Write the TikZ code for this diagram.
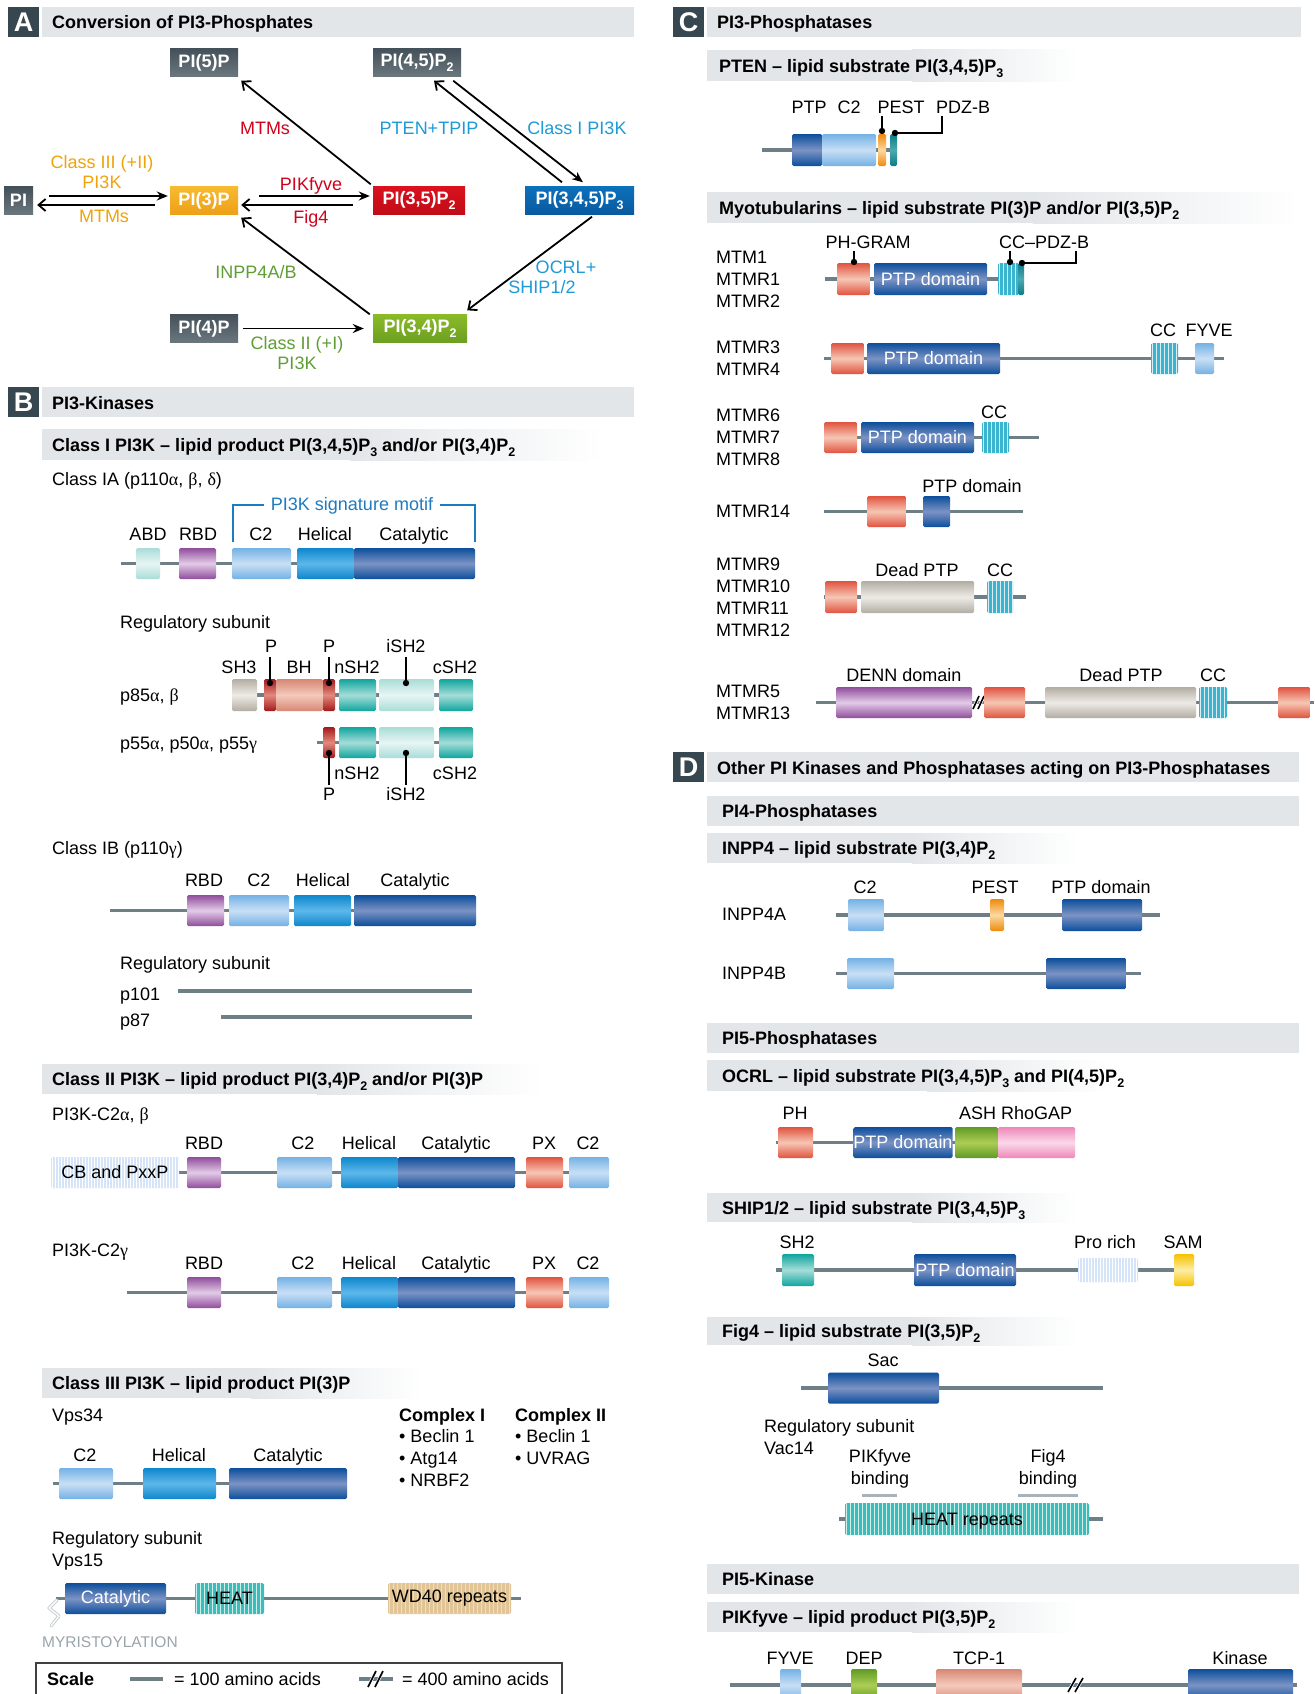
\documentclass[tikz,border=0pt]{standalone}
\usepackage{fontspec}
\setmainfont{Liberation Sans}
\newfontfamily\grkfont{Liberation Serif}
\usetikzlibrary{arrows.meta,calc}
\newcommand\xalpha{{\grkfont α}}
\newcommand\xbeta{{\grkfont β}}
\newcommand\xdelta{{\grkfont δ}}
\newcommand\xgamma{{\grkfont γ}}
\newcommand\sbs[1]{\raisebox{-0.3em}{\fontsize{12.5}{12.5}\selectfont #1}}
\definecolor{hdrbar}{HTML}{E3E6E9}
\definecolor{hdrlab}{HTML}{37474F}
\definecolor{bbC}{HTML}{6F7F87}
\definecolor{gNa}{HTML}{44515A}
\definecolor{gNb}{HTML}{6B777E}
\definecolor{oNa}{HTML}{F7BA30}
\definecolor{oNb}{HTML}{EDA018}
\definecolor{rNa}{HTML}{DA111E}
\definecolor{rNb}{HTML}{C00C17}
\definecolor{bNa}{HTML}{0C70BA}
\definecolor{bNb}{HTML}{0A5AA0}
\definecolor{grNa}{HTML}{8BBB28}
\definecolor{grNb}{HTML}{6C9E22}
\definecolor{orT}{HTML}{F0A30A}
\definecolor{rdT}{HTML}{D0021B}
\definecolor{blT}{HTML}{1E9BD7}
\definecolor{grT}{HTML}{5F9E35}
\definecolor{motif}{HTML}{1E7BC0}
\definecolor{lbE}{HTML}{74B1E5}\definecolor{lbM}{HTML}{C8DFF5}
\definecolor{mbE}{HTML}{0E86CC}\definecolor{mbM}{HTML}{5DB8EA}
\definecolor{dbE}{HTML}{0C4E9C}\definecolor{dbM}{HTML}{7C93C4}
\definecolor{puE}{HTML}{8F4D9C}\definecolor{puM}{HTML}{E3CBE7}
\definecolor{ptE}{HTML}{A9DCD8}\definecolor{ptM}{HTML}{E7F6F4}
\definecolor{teE}{HTML}{10A59D}\definecolor{teM}{HTML}{A5DDD9}
\definecolor{bgE}{HTML}{B2ADA3}\definecolor{bgM}{HTML}{EEEBE6}
\definecolor{saE}{HTML}{D88774}\definecolor{saM}{HTML}{F3CABC}
\definecolor{drE}{HTML}{A3191B}\definecolor{drM}{HTML}{E3897D}
\definecolor{rdE}{HTML}{E0533F}\definecolor{rdM}{HTML}{F6C6B4}
\definecolor{orE}{HTML}{EE8A0A}\definecolor{orM}{HTML}{FCD9A1}
\definecolor{gnE}{HTML}{5E9B25}\definecolor{gnM}{HTML}{ADCD55}
\definecolor{pkE}{HTML}{EE88B7}\definecolor{pkM}{HTML}{FBD8E9}
\definecolor{yeE}{HTML}{F6C200}\definecolor{yeM}{HTML}{FDEDA3}
\definecolor{tcE}{HTML}{0B7C85}\definecolor{tcM}{HTML}{4BAAB2}
\definecolor{ccB}{HTML}{3DB4CF}
\definecolor{htB}{HTML}{3CBDB9}\definecolor{htS}{HTML}{CFEFEC}
\definecolor{pbB}{HTML}{D5E5F7}
\definecolor{wdB}{HTML}{E2C596}\definecolor{wdS}{HTML}{F1DDBA}
\definecolor{myr}{HTML}{9AA5AB}
\definecolor{gbar}{HTML}{A8B2B8}
% domain box: name, style, x1, x2, yc, h, text
\newcommand\dmn[7]{%
  \pgfmathsetmacro\dmw{#4-#3}%
  \pgfmathsetmacro\dmx{(#3+#4)/2}%
  \node[dombase,#2,minimum width=\dmw pt,minimum height=#6pt] (#1) at (\dmx,#5) {#7};}
% striped box: name, x1, x2, yc, h, base, stripe, spacing, text
\newcommand\sdm[9]{%
  \pgfmathsetmacro\dmw{#3-#2}%
  \pgfmathsetmacro\dmx{(#2+#3)/2}%
  \node[dombase,fill=#6,minimum width=\dmw pt,minimum height=#5pt,
    path picture={\foreach \k in {0,#8,...,400}{\draw[#7,line width=0.9pt]
      ([xshift=\k pt+1.5pt]path picture bounding box.south west) --
      ([xshift=\k pt+1.5pt]path picture bounding box.north west);}}] (#1) at (\dmx,#4) {#9};}
% fading sub header: name, x, y1, y2, len, textx, text
\newcommand\subhd[7]{%
  \fill[hdrbar] (#2,#3) rectangle ({#2+0.55*#5},#4);
  \shade[left color=hdrbar,right color=white] ({#2+0.55*#5},#3) rectangle ({#2+#5},#4);
  \node[tl,bld] (#1) at (#6,{(#3+#4)/2}) {#7};}
% solid header bar: name, x, y1, y2, x2, textx, text
\newcommand\solhd[7]{%
  \fill[hdrbar] (#2,#3) rectangle (#5,#4);
  \node[tl,bld] (#1) at (#6,{(#3+#4)/2}) {#7};}
% section header: name, letter, x1, y1, barx2, text
\newcommand\secbar[6]{%
  \fill[hdrlab] (#3,#4) rectangle ({#3+31},{#4+30});
  \node[text=white,font=\fontsize{27}{27}\selectfont\bfseries,inner sep=0pt] (#1l) at ({#3+15.5},{#4+15}) {#2};
  \fill[hdrbar] ({#3+34},#4) rectangle (#5,{#4+30});
  \node[tl,bld] (#1) at ({#3+44},{#4+15.5}) {#6};}
\begin{document}
\begin{tikzpicture}[x=1pt,y=-1pt,
  font=\fontsize{18}{21}\selectfont,
  tl/.style={anchor=base west,yshift=-6.5pt,inner sep=0pt},
  tc/.style={anchor=base,yshift=-6.5pt,inner sep=0pt},
  bld/.style={font=\fontsize{18}{21}\selectfont\bfseries},
  bb/.style={draw=bbC,line width=3.5pt},
  pinln/.style={draw=black,line width=1.2pt},
  dombase/.style={rectangle,rounded corners=1.5pt,inner sep=0pt,outer sep=0pt,draw=none},
  wtxt/.style={text=white},
  dLB/.style={top color=lbE,bottom color=lbE,middle color=lbM},
  dMB/.style={top color=mbE,bottom color=mbE,middle color=mbM},
  dDB/.style={top color=dbE,bottom color=dbE,middle color=dbM},
  dPU/.style={top color=puE,bottom color=puE,middle color=puM},
  dPT/.style={top color=ptE,bottom color=ptE,middle color=ptM},
  dTE/.style={top color=teE,bottom color=teE,middle color=teM},
  dBG/.style={top color=bgE,bottom color=bgE,middle color=bgM},
  dSA/.style={top color=saE,bottom color=saE,middle color=saM},
  dDR/.style={top color=drE,bottom color=drE,middle color=drM},
  dRD/.style={top color=rdE,bottom color=rdE,middle color=rdM},
  dOR/.style={top color=orE,bottom color=orE,middle color=orM},
  dGN/.style={top color=gnE,bottom color=gnE,middle color=gnM},
  dPK/.style={top color=pkE,bottom color=pkE,middle color=pkM},
  dYE/.style={top color=yeE,bottom color=yeE,middle color=yeM},
  dTC/.style={top color=tcE,bottom color=tcE,middle color=tcM},
  pn/.style={rectangle,inner sep=0pt,text=white,font=\fontsize{18}{21}\selectfont\bfseries,minimum height=28pt},
  ngray/.style={top color=gNa,bottom color=gNb},
  norange/.style={top color=oNa,bottom color=oNb},
  nred/.style={top color=rNa,bottom color=rNb},
  nblue/.style={top color=bNa,bottom color=bNb},
  ngreen/.style={top color=grNa,bottom color=grNb},
  kin/.style={draw=black,line width=1.8pt,-{Stealth[length=11pt,width=9pt]}},
  pho/.style={draw=black,line width=1.8pt,-{Straight Barb[length=7pt,width=12pt]}},
  brk/.style={draw=black,line width=1.6pt}
]
\useasboundingbox (0,0) rectangle (1314,1694);
\clip (0,0) rectangle (1314,1694);
\fill[white] (0,0) rectangle (1314,1694);

% ================= A =================
\secbar{hA}{A}{8}{7}{634}{Conversion of PI3-Phosphates}
\node[pn,ngray,minimum width=68pt] (P5) at (204,62.5) {PI(5)P};
\node[pn,ngray,minimum width=88pt] (P45) at (417,62.5) {PI(4,5)P\sbs{2}};
\node[pn,ngray,minimum width=29pt] (PI) at (18.5,200.5) {PI};
\node[pn,norange,minimum width=68pt] (P3) at (204,200.5) {PI(3)P};
\node[pn,nred,minimum width=92pt] (P35) at (419,200.5) {PI(3,5)P\sbs{2}};
\node[pn,nblue,minimum width=109pt] (P345) at (579.5,200.5) {PI(3,4,5)P\sbs{3}};
\node[pn,ngray,minimum width=68pt] (P4) at (204,328.5) {PI(4)P};
\node[pn,ngreen,minimum width=94pt] (P34) at (420,328.5) {PI(3,4)P\sbs{2}};

\draw[kin] ([shift={(16,-4.5)}]PI.east) -- ([shift={(-2,-4.5)}]P3.west);
\draw[pho] ([shift={(-15,4.5)}]P3.west) -- ([shift={(4,4.5)}]PI.east);
\draw[kin] ([shift={(21,-4.5)}]P3.east) -- ([shift={(-3,-4.5)}]P35.west);
\draw[pho] ([shift={(-20,4.5)}]P35.west) -- ([shift={(3,4.5)}]P3.east);
\draw[pho] ([shift={(-2,-2)}]P35.north west) -- ([shift={(3,4)}]P5.south east);
\draw[kin] ([shift={(-8,4)}]P45.south east) -- ([shift={(3.5,-4)}]P345.north);
\draw[pho] ([shift={(-17.5,-4)}]P345.north) -- ([shift={(17,4)}]P45.south);
\draw[pho] ([shift={(12.5,2)}]P345.south) -- ([shift={(0,-4)}]P34.north east);
\draw[pho] ([shift={(-3,0)}]P34.north west) -- ([shift={(3,3)}]P3.south east);
\draw[kin] ([xshift=5pt]P4.east) -- ([xshift=-9pt]P34.west);

\node[tc,text=orT] (lA1) at (102,162) {Class III (+II)};
\node[tc,text=orT] (lA2) at (102,182) {PI3K};
\node[tc,text=orT] (lA3) at (104,216) {MTMs};
\node[tc,text=rdT] (lA4) at (311,184) {PIKfyve};
\node[tc,text=rdT] (lA5) at (311,217) {Fig4};
\node[tc,text=rdT] (lA6) at (265,128) {MTMs};
\node[tc,text=blT] (lA7) at (429,128) {PTEN+TPIP};
\node[tc,text=blT] (lA8) at (577,128) {Class I PI3K};
\node[tc,text=blT] (lA9) at (566,267) {OCRL+};
\node[tc,text=blT] (lA10) at (542,287) {SHIP1/2};
\node[tc,text=grT] (lA11) at (256,272) {INPP4A/B};
\node[tc,text=grT] (lA12) at (297,343) {Class II (+I)};
\node[tc,text=grT] (lA13) at (297,363) {PI3K};

% ================= B =================
\secbar{hB}{B}{8}{387}{634}{PI3-Kinases}
\subhd{sB1}{42}{429}{460}{560}{52}{Class I PI3K -- lipid product PI(3,4,5)P\sbs{3} and/or PI(3,4)P\sbs{2}}
\node[tl] (cIA) at (52,479) {Class IA (p110\xalpha, \xbeta, \xdelta)};
\draw[motif,line width=1.2pt] (233,542) |- (264,505);
\draw[motif,line width=1.2pt] (440,505) -| (475,542);
\node[tc,text=motif] (motifT) at (352,504) {PI3K signature motif};
\node[tc] at (148,534) {ABD};
\node[tc] at (198,534) {RBD};
\node[tc] at (261,534) {C2};
\node[tc] at (325,534) {Helical};
\node[tc] at (414,534) {Catalytic};
\draw[bb] (121,563.5) -- (475,563.5);
\dmn{abd}{dPT}{136}{160}{563.5}{31}{}
\dmn{rbdA}{dPU}{179}{216}{563.5}{31}{}
\dmn{c2A}{dLB}{232}{291}{563.5}{31}{}
\dmn{helA}{dMB}{297}{354}{563.5}{31}{}
\dmn{catA}{dDB}{354}{475}{563.5}{31}{}

\node[tl] (regA) at (120,622) {Regulatory subunit};
\node[tl] (p85) at (120,695) {p85\xalpha, \xbeta};
\draw[bb] (232,695) -- (473,695);
\dmn{sh3}{dBG}{232}{257}{695}{32}{}
\dmn{pa}{dDR}{264}{276}{695}{32}{}
\dmn{bhd}{dSA}{276}{323}{695}{32}{}
\dmn{pb}{dDR}{323}{335}{695}{32}{}
\dmn{nsh}{dTE}{339}{376}{695}{32}{}
\dmn{ish}{dPT}{379}{434}{695}{32}{}
\dmn{csh}{dTE}{439}{473}{695}{32}{}
\node[tc] at (239,667) {SH3};
\node[tc] at (299,667) {BH};
\node[tc] at (357,667) {nSH2};
\node[tc] at (455,667) {cSH2};
\node[tc] at (271,646) {P};
\node[tc] at (329,646) {P};
\node[tc] at (406,646) {iSH2};
\draw[pinln] (270,657) -- (270,683); \fill (270,683) circle (3.2pt);
\draw[pinln] (329,657) -- (329,683); \fill (329,683) circle (3.2pt);
\draw[pinln] (406,657) -- (406,683); \fill (406,683) circle (3.2pt);

\node[tl] (p55) at (120,743) {p55\xalpha, p50\xalpha, p55\xgamma};
\draw[bb] (317,742.5) -- (473,742.5);
\dmn{pc}{dDR}{323}{335}{742.5}{31}{}
\dmn{nsh2}{dTE}{339}{376}{742.5}{31}{}
\dmn{ish2}{dPT}{379}{434}{742.5}{31}{}
\dmn{csh2}{dTE}{439}{473}{742.5}{31}{}
\draw[pinln] (329,753) -- (329,785); \fill (329,753) circle (3.2pt);
\draw[pinln] (406,753) -- (406,785); \fill (406,753) circle (3.2pt);
\node[tc] at (357,773) {nSH2};
\node[tc] at (455,773) {cSH2};
\node[tc] at (329,794) {P};
\node[tc] at (406,794) {iSH2};

\node[tl] (cIB) at (52,848) {Class IB (p110\xgamma)};
\node[tc] at (204,880) {RBD};
\node[tc] at (259,880) {C2};
\node[tc] at (323,880) {Helical};
\node[tc] at (415,880) {Catalytic};
\draw[bb] (110,910.5) -- (476,910.5);
\dmn{rbdB}{dPU}{187}{224}{910.5}{31}{}
\dmn{c2B}{dLB}{229}{289}{910.5}{31}{}
\dmn{helB}{dMB}{294}{351}{910.5}{31}{}
\dmn{catB}{dDB}{354}{476}{910.5}{31}{}
\node[tl] (regB) at (120,963) {Regulatory subunit};
\node[tl] (p101) at (120,994) {p101};
\draw[bb] (178,991) -- (472,991);
\node[tl] (p87) at (120,1020) {p87};
\draw[bb] (221,1017) -- (472,1017);

\subhd{sB2}{42}{1064}{1094}{500}{52}{Class II PI3K -- lipid product PI(3,4)P\sbs{2} and/or PI(3)P}
\node[tl] (c2ab) at (52,1114) {PI3K-C2\xalpha, \xbeta};
\foreach \yy/\tg in {1143/a,1263/b}{
  \node[tc] at (204,\yy) {RBD};
  \node[tc] at (303,\yy) {C2};
  \node[tc] at (369,\yy) {Helical};
  \node[tc] at (456,\yy) {Catalytic};
  \node[tc] at (544,\yy) {PX};
  \node[tc] at (588,\yy) {C2};
}
\draw[bb] (179,1172.5) -- (609,1172.5);
\sdm{cbp}{51}{179}{1172.5}{31}{pbB}{white}{3}{CB and PxxP}
\dmn{rbdC}{dPU}{187}{221}{1172.5}{31}{}
\dmn{c2C}{dLB}{277}{332}{1172.5}{31}{}
\dmn{helC}{dMB}{341}{398}{1172.5}{31}{}
\dmn{catC}{dDB}{398}{515}{1172.5}{31}{}
\dmn{pxC}{dRD}{526}{563}{1172.5}{31}{}
\dmn{c2Cb}{dLB}{569}{609}{1172.5}{31}{}
\node[tl] (c2g) at (52,1250) {PI3K-C2\xgamma};
\draw[bb] (127,1292.5) -- (609,1292.5);
\dmn{rbdD}{dPU}{187}{221}{1292.5}{31}{}
\dmn{c2D}{dLB}{277}{332}{1292.5}{31}{}
\dmn{helD}{dMB}{341}{398}{1292.5}{31}{}
\dmn{catD}{dDB}{398}{515}{1292.5}{31}{}
\dmn{pxD}{dRD}{526}{563}{1292.5}{31}{}
\dmn{c2Db}{dLB}{569}{609}{1292.5}{31}{}

\subhd{sB3}{42}{1368}{1398}{380}{52}{Class III PI3K -- lipid product PI(3)P}
\node[tl] (vps34) at (52,1415) {Vps34};
\node[tl,bld] (cx1) at (399,1415) {Complex I};
\node[tl] at (399,1436) {• Beclin 1};
\node[tl] at (399,1458) {• Atg14};
\node[tl] at (399,1480) {• NRBF2};
\node[tl,bld] (cx2) at (515,1415) {Complex II};
\node[tl] at (515,1436) {• Beclin 1};
\node[tl] at (515,1458) {• UVRAG};
\node[tc] at (85,1455) {C2};
\node[tc] at (179,1455) {Helical};
\node[tc] at (288,1455) {Catalytic};
\draw[bb] (53,1483.5) -- (347,1483.5);
\dmn{c2E}{dLB}{59}{113}{1483.5}{31}{}
\dmn{helE}{dMB}{143}{216}{1483.5}{31}{}
\dmn{catE}{dDB}{229}{347}{1483.5}{31}{}
\node[tl] (regE) at (52,1538) {Regulatory subunit};
\node[tl] (vps15) at (52,1560) {Vps15};
\draw[bb] (56,1598.5) -- (521,1598.5);
\draw[myr!60,line width=3.2pt,line join=round,line cap=round] (57,1600) -- (49,1608) -- (59,1616) -- (51,1626);
\draw[white,line width=1.4pt,line join=round,line cap=round] (57,1600) -- (49,1608) -- (59,1616) -- (51,1626);
\dmn{catF}{dDB,wtxt}{65}{166}{1598.5}{31}{Catalytic}
\sdm{heatF}{195}{264}{1598.5}{31}{htB}{htS}{4}{HEAT}
\sdm{wd40}{388}{511}{1598.5}{31}{wdB}{wdS}{4}{WD40 repeats}
\node[tl,text=myr,font=\fontsize{15.5}{18}\selectfont] (myrT) at (42,1641) {MYRISTOYLATION};
\draw[black!75,line width=1.2pt] (36,1663) rectangle (562,1710);
\node[tl,bld] (scl) at (47,1679) {Scale};
\draw[bb] (130,1679) -- (163,1679);
\node[tl] (s100) at (174,1679) {= 100 amino acids};
\draw[bb] (359,1679) -- (393,1679);
\draw[white,line width=3pt] (368,1687) -- (376,1671);
\draw[white,line width=3pt] (375,1687) -- (383,1671);
\draw[brk] (368,1687) -- (376,1671);
\draw[brk] (375,1687) -- (383,1671);
\node[tl] (s400) at (402,1679) {= 400 amino acids};

% ================= C =================
\secbar{hC}{C}{673}{7}{1301}{PI3-Phosphatases}
\subhd{sC1}{707}{50}{81}{372}{719}{PTEN -- lipid substrate PI(3,4,5)P\sbs{3}}
\node[tc] at (809,107) {PTP};
\node[tc] at (849,107) {C2};
\node[tc] at (901,107) {PEST};
\node[tc] at (963,107) {PDZ-B};
\draw[bb] (762,150) -- (895,150);
\dmn{ptpP}{dDB}{792}{822}{150}{32}{}
\dmn{c2P}{dLB}{822}{876}{150}{32}{}
\dmn{pestP}{dOR}{878}{886}{150}{32}{}
\dmn{pdzP}{dTC}{890}{897}{150}{32}{}
\draw[pinln] (882,116) -- (882,131); \fill (882,131) circle (3.2pt);
\draw[pinln] (895,133) -- (942,133) -- (942,116); \fill (895,133) circle (3.2pt);

\subhd{sC2}{707}{192}{223}{592}{719}{Myotubularins -- lipid substrate PI(3)P and/or PI(3,5)P\sbs{2}}
\node[tl] at (716,257) {MTM1};
\node[tl] at (716,279) {MTMR1};
\node[tl] at (716,301) {MTMR2};
\node[tc] at (868,242) {PH-GRAM};
\node[tc] at (1044,242) {CC--PDZ-B};
\draw[bb] (825,279) -- (1024,279);
\dmn{ph1}{dRD}{837}{870}{279}{32}{}
\dmn{ptp1}{dDB,wtxt}{874}{987}{279}{32}{PTP domain}
\sdm{cc1}{998}{1019}{279}{32}{ccB}{white!80!ccB}{4}{}
\dmn{pdz1}{dTC}{1018}{1024}{279}{32}{}
\draw[pinln] (854,251) -- (854,262); \fill (854,262) circle (3.2pt);
\draw[pinln] (1010,251) -- (1010,262); \fill (1010,262) circle (3.2pt);
\draw[pinln] (1022,263) -- (1076,263) -- (1076,251); \fill (1022,263) circle (3.2pt);

\node[tl] at (716,347) {MTMR3};
\node[tl] at (716,369) {MTMR4};
\node[tc] at (1163,330) {CC};
\node[tc] at (1209,330) {FYVE};
\draw[bb] (824,358.5) -- (1224,358.5);
\dmn{ph3}{dRD}{831}{864}{358.5}{31}{}
\dmn{ptp3}{dDB,wtxt}{867}{1000}{358.5}{31}{PTP domain}
\sdm{cc3}{1151}{1178}{358.5}{31}{ccB}{white!80!ccB}{4}{}
\dmn{fyve3}{dLB}{1195}{1214}{358.5}{31}{}

\node[tl] at (716,415) {MTMR6};
\node[tl] at (716,437) {MTMR7};
\node[tl] at (716,459) {MTMR8};
\node[tc] at (994,412) {CC};
\draw[bb] (824,437.5) -- (1039,437.5);
\dmn{ph6}{dRD}{824}{857}{437.5}{31}{}
\dmn{ptp6}{dDB,wtxt}{861}{974}{437.5}{31}{PTP domain}
\sdm{cc6}{982}{1009}{437.5}{31}{ccB}{white!80!ccB}{4}{}

\node[tl] at (716,511) {MTMR14};
\node[tc] at (972,486) {PTP domain};
\draw[bb] (824,511.5) -- (1023,511.5);
\dmn{ph14}{dRD}{867}{906}{511.5}{31}{}
\dmn{ptp14}{dDB}{923}{950}{511.5}{31}{}

\node[tl] at (716,564) {MTMR9};
\node[tl] at (716,586) {MTMR10};
\node[tl] at (716,608) {MTMR11};
\node[tl] at (716,630) {MTMR12};
\node[tc] at (917,570) {Dead PTP};
\node[tc] at (1000,570) {CC};
\draw[bb] (824,597) -- (1026,597);
\dmn{ph9}{dRD}{825}{857}{597}{32}{}
\dmn{dp9}{dBG}{861}{974}{597}{32}{}
\sdm{cc9}{987}{1013}{597}{32}{ccB}{white!80!ccB}{4}{}

\node[tl] at (716,691) {MTMR5};
\node[tl] at (716,713) {MTMR13};
\node[tc] at (904,675) {DENN domain};
\node[tc] at (1121,675) {Dead PTP};
\node[tc] at (1213,675) {CC};
\draw[bb] (816,702.5) -- (1314,702.5);
\dmn{denn}{dPU}{836}{972}{702.5}{31}{}
\draw[white,line width=3pt] (973,709) -- (979,696);
\draw[white,line width=3pt] (978,709) -- (984,696);
\draw[brk] (973,709) -- (979,696);
\draw[brk] (978,709) -- (984,696);
\dmn{ph5}{dRD}{984}{1025}{702.5}{31}{}
\dmn{dp5}{dBG}{1045}{1196}{702.5}{31}{}
\sdm{cc5}{1199}{1227}{702.5}{31}{ccB}{white!80!ccB}{4}{}
\dmn{ph5b}{dRD}{1278}{1310}{702.5}{31}{}

% ================= D =================
\secbar{hD}{D}{673}{752}{1299}{Other PI Kinases and Phosphatases acting on PI3-Phosphatases}
\solhd{sD1}{707}{796}{826}{1299}{722}{PI4-Phosphatases}
\subhd{sD2}{707}{833}{863}{372}{722}{INPP4 -- lipid substrate PI(3,4)P\sbs{2}}
\node[tl] at (722,914) {INPP4A};
\node[tc] at (865,887) {C2};
\node[tc] at (995,887) {PEST};
\node[tc] at (1101,887) {PTP domain};
\draw[bb] (836,915) -- (1160,915);
\dmn{c2I}{dLB}{848}{884}{915}{32}{}
\dmn{pestI}{dOR}{990}{1004}{915}{32}{}
\dmn{ptpI}{dDB}{1062}{1142}{915}{32}{}
\node[tl] at (722,973) {INPP4B};
\draw[bb] (836,973.5) -- (1141,973.5);
\dmn{c2J}{dLB}{847}{894}{973.5}{31}{}
\dmn{ptpJ}{dDB}{1046}{1126}{973.5}{31}{}

\solhd{sD3}{707}{1023}{1053}{1299}{722}{PI5-Phosphatases}
\subhd{sD4}{707}{1060}{1091}{400}{722}{OCRL -- lipid substrate PI(3,4,5)P\sbs{3} and PI(4,5)P\sbs{2}}
\node[tc] at (795,1113) {PH};
\node[tl] at (959,1113) {ASH RhoGAP};
\draw[bb] (776,1142.5) -- (960,1142.5);
\dmn{phO}{dRD}{778}{813}{1142.5}{31}{}
\dmn{ptpO}{dDB,wtxt}{855}{951}{1142.5}{31}{PTP domain}
\dmn{ash}{dGN}{955}{998}{1142.5}{31}{}
\dmn{rho}{dPK}{998}{1075}{1142.5}{31}{}

\subhd{sD5}{707}{1193}{1222}{372}{722}{SHIP1/2 -- lipid substrate PI(3,4,5)P\sbs{3}}
\node[tc] at (797,1242) {SH2};
\node[tc] at (1105,1242) {Pro rich};
\node[tc] at (1183,1242) {SAM};
\draw[bb] (776,1270) -- (1194,1270);
\dmn{sh2S}{dTE}{782}{814}{1270}{32}{}
\dmn{ptpS}{dDB,wtxt}{914}{1016}{1270}{32}{PTP domain}
\sdm{pro}{1078}{1138}{1270}{24}{pbB}{white}{3}{}
\dmn{sam}{dYE}{1174}{1194}{1270}{32}{}

\subhd{sD6}{707}{1317}{1345}{372}{722}{Fig4 -- lipid substrate PI(3,5)P\sbs{2}}
\node[tc] at (883,1360) {Sac};
\draw[bb] (801,1388) -- (1103,1388);
\dmn{sac}{dDB}{828}{939}{1388}{31}{}
\node[tl] (regV) at (764,1426) {Regulatory subunit};
\node[tl] (vac14) at (764,1448) {Vac14};
\node[tc] at (880,1456) {PIKfyve};
\node[tc] at (880,1478) {binding};
\node[tc] at (1048,1456) {Fig4};
\node[tc] at (1048,1478) {binding};
\draw[gbar,line width=3pt] (862,1495) -- (897,1495);
\draw[gbar,line width=3pt] (1018,1495) -- (1078,1495);
\draw[bb] (839,1519) -- (1103,1519);
\sdm{heatV}{845}{1089}{1519}{32}{htB}{htS}{4}{}
\node[tc] (heatT) at (967,1519) {HEAT repeats};

\solhd{sD7}{707}{1564}{1594}{1299}{722}{PI5-Kinase}
\subhd{sD8}{707}{1602}{1632}{372}{722}{PIKfyve -- lipid product PI(3,5)P\sbs{2}}
\node[tc] at (790,1658) {FYVE};
\node[tc] at (864,1658) {DEP};
\node[tc] at (979,1658) {TCP-1};
\node[tc] at (1240,1658) {Kinase};
\draw[bb] (730,1685) -- (1297,1685);
\dmn{fyveK}{dLB}{780}{801}{1685}{32}{}
\dmn{depK}{dGN}{851}{877}{1685}{32}{}
\dmn{tcpK}{dSA}{936}{1022}{1685}{32}{}
\draw[white,line width=3pt] (1068,1692) -- (1076,1678);
\draw[white,line width=3pt] (1075,1692) -- (1083,1678);
\draw[brk] (1068,1692) -- (1076,1678);
\draw[brk] (1075,1692) -- (1083,1678);
\dmn{kinK}{dDB}{1188}{1293}{1685}{32}{}
\end{tikzpicture}
\end{document}
